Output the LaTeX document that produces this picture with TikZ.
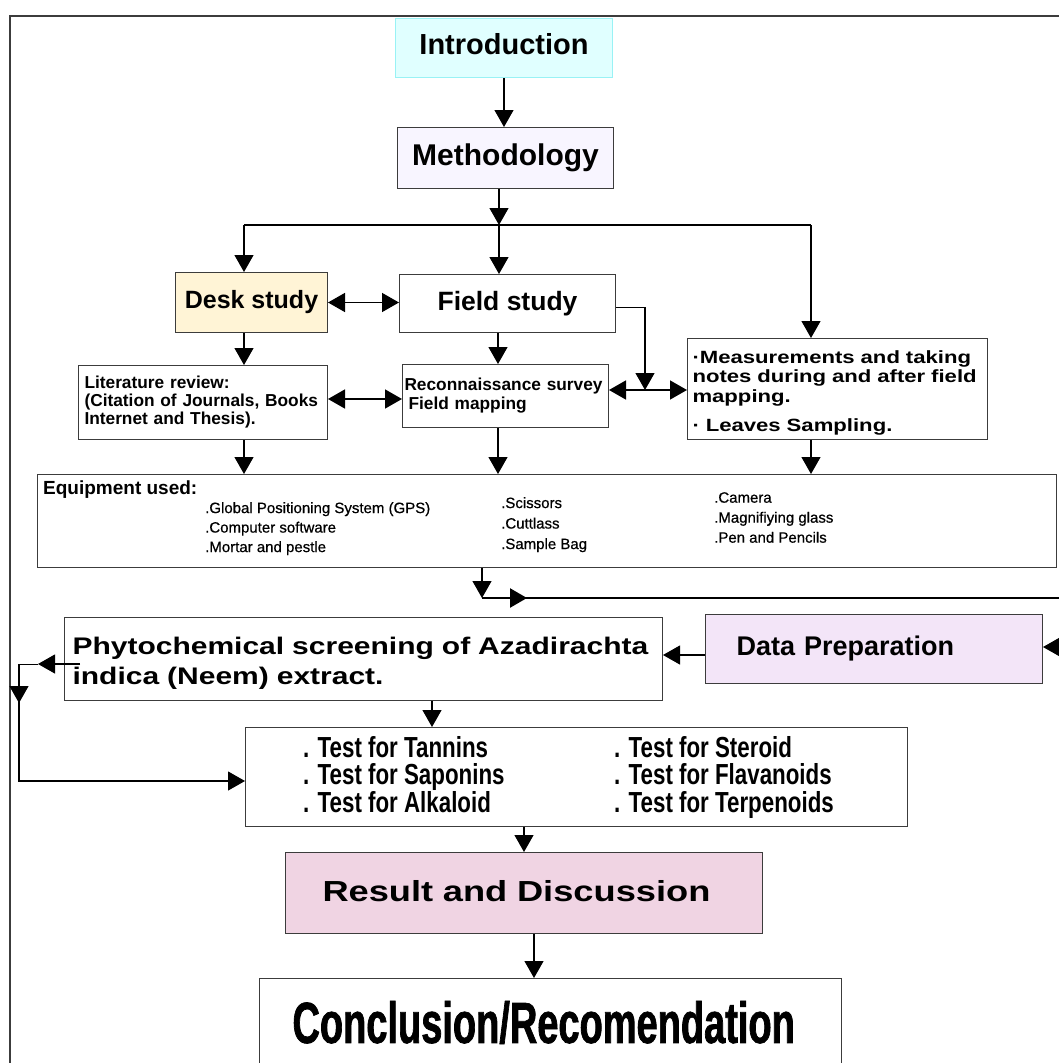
\documentclass[tikz,border=0pt]{standalone}
\usepackage{fontspec}
\setmainfont{Liberation Sans}
\newfontfamily\medfont[FakeBold=0.6]{Liberation Sans}
\newfontfamily\widefont[FakeStretch=1.25]{Liberation Sans}
\newfontfamily\narrowfont[FakeStretch=0.77]{Liberation Sans}
\newfontfamily\tallfont[FakeStretch=0.655,FakeBold=1.2]{Liberation Sans}
\usetikzlibrary{arrows.meta}
\definecolor{introfill}{HTML}{E0FFFF}
\definecolor{introline}{HTML}{99F2F5}
\definecolor{methfill}{HTML}{F8F5FF}
\definecolor{deskfill}{HTML}{FFF4D6}
\definecolor{datafill}{HTML}{F3E5F8}
\definecolor{resfill}{HTML}{F0D4E3}
\definecolor{boxline}{HTML}{3C3C3C}
\newcommand{\px}[2]{\fontsize{#1}{#2}\selectfont}

\begin{document}
\begin{tikzpicture}[x=1pt, y=-1pt,
	box/.style={draw=boxline, line width=1pt, rectangle, anchor=north west, inner sep=0pt},
	arr/.style={-{Triangle[length=17pt,width=19pt]}, line width=1.2pt},
	arrr/.style={{Triangle[length=17pt,width=19pt]}-{Triangle[length=17pt,width=19pt]}, line width=1.6pt}]
	\useasboundingbox (0,0) rectangle (1059,1063);
	\clip (0,0) rectangle (1059,1063);
	\draw[line width=1.2pt, boxline] (10,1080) -- (10,16) -- (1080,16);

	\node[box, fill=introfill, draw=introline, minimum width=217, minimum height=59, text depth=8pt, font=\bfseries\px{29}{32}] (intro) at (395,18) {Introduction};
	\node[box, fill=methfill, minimum width=216, minimum height=61, font=\bfseries\px{30}{33}] (meth) at (397,127) {Methodology};
	\node[box, fill=deskfill, minimum width=152, minimum height=60, font=\bfseries\px{25}{28}] (desk) at (175,272) {Desk study};
	\node[box, minimum width=216, minimum height=58, font=\bfseries\px{26.5}{30}] (field) at (399,274) {Field study};
	\node[box, minimum height=74, text width=237, inner xsep=6, align=left, font=\bfseries\px{17.3}{18}] (lit) at (78,365) {Literature review:\\(Citation of Journals, Books\\Internet and Thesis).};
	\node[box, minimum height=63, text width=202, inner xsep=2, align=left, font=\bfseries\px{17.3}{19}] (recon) at (402,364) {Reconnaissance survey\\\hspace*{4pt}Field mapping\\[6pt]};
	\node[box, minimum height=101, text width=290, inner xsep=5, align=left, font=\widefont\bfseries\px{17.7}{19.5}] (meas) at (687,338) {\rule{0pt}{21pt}·Measurements and taking\\notes during and after field\\mapping.\\[10pt]· Leaves Sampling.};

	\node[box, minimum width=1019, minimum height=93] (equip) at (37,474) {};
	\node[anchor=base west, inner sep=0pt, font=\bfseries\px{19}{20}] (equiphead) at (43,494) {Equipment used:};
	\node[anchor=north west, inner sep=0pt, align=left, font=\medfont\px{15}{19.5}] (eqA) at (205,502) {.Global Positioning System (GPS)\\.Computer software\\.Mortar and pestle};
	\node[anchor=north west, inner sep=0pt, align=left, font=\medfont\px{15}{20.5}] (eqB) at (501,497) {.Scissors\\.Cuttlass\\.Sample Bag};
	\node[anchor=north west, inner sep=0pt, align=left, font=\medfont\px{15}{20}] (eqC) at (714,492) {.Camera\\.Magnifiying glass\\.Pen and Pencils};

	\node[box, fill=datafill, minimum width=337, minimum height=69, text width=275, inner xsep=31, align=left, text depth=7pt, font=\bfseries\px{27}{30}] (data) at (705,614) {Data Preparation};
	\node[box, minimum height=83, text width=582, inner xsep=8, align=left, font=\widefont\bfseries\px{24}{30}] (phyto) at (64,617) {\rule{0pt}{26pt}Phytochemical screening of Azadirachta\\indica (Neem) extract.};

	\node[box, minimum width=662, minimum height=99] (tests) at (245,727) {};
	\node[anchor=north west, inner sep=0pt, align=left, font=\narrowfont\bfseries\px{29}{27.5}] (testsA) at (303,736) {. Test for Tannins\\. Test for Saponins\\. Test for Alkaloid};
	\node[anchor=north west, inner sep=0pt, align=left, font=\narrowfont\bfseries\px{29}{27.5}] (testsB) at (614,736) {. Test for Steroid\\. Test for Flavanoids\\. Test for Terpenoids};

	\node[box, fill=resfill, minimum width=477, minimum height=81, text width=403, inner xsep=37, align=left, text depth=5pt, font=\widefont\bfseries\px{29}{32}] (result) at (285,852) {Result and Discussion};
	\node[box, minimum width=582, minimum height=88, text width=516, inner xsep=33, align=left, font=\tallfont\bfseries\px{58}{60}] (concl) at (259,978) {Conclusion/Recomendation};

	\coordinate (colA) at (244,0);
	\coordinate (colB) at (498,0);
	\coordinate (colC) at (811,0);
	\coordinate (bus) at (499,225);
	\draw[arr] (intro.south) -- (intro.south |- meth.north);
	\draw[arr] (bus |- meth.south) -- (bus);
	\draw[line width=2pt] (colA |- bus) -- (colC |- bus);
	\draw[arr] (colA |- bus) -- (colA |- desk.north);
	\draw[arr] (bus) -- (bus |- field.north);
	\draw[arr] (colC |- bus) -- (colC |- meas.north);
	\draw[arrr] (desk.east) -- (desk.east -| field.west);
	\draw[arr] (colA |- desk.south) -- (colA |- lit.north);
	\draw[arr] (colB |- field.south) -- (colB |- recon.north);
	\coordinate (tap) at (645,390);
	\draw[arr] ([yshift=-4pt]field.east) -| (tap);
	\draw[arrr] (recon.east |- tap) -- (meas.west |- tap);
	\coordinate (lr) at (0,399);
	\draw[arrr] (lit.east |- lr) -- (recon.west |- lr);
	\draw[arr] (colA |- lit.south) -- (colA |- equip.north);
	\draw[arr] (colB |- recon.south) -- (colB |- equip.north);
	\draw[arr] (colC |- meas.south) -- (colC |- equip.north);

	\coordinate (turn) at (482,598);
	\coordinate (edgeR) at (1070,598);
	\draw[arr] (turn |- equip.south) -- (turn);
	\draw[line width=2.4pt] (turn) -- (edgeR);
	\draw[arr, line width=2.4pt] (turn) -- ++(45,0);
	\coordinate (edgeD) at (1070,647);
	\draw[arr] (edgeD) -- (data.east |- edgeD);
	\coordinate (dp) at (0,655);
	\draw[arr] (data.west |- dp) -- (phyto.east |- dp);

	\coordinate (colD) at (432,0);
	\draw[arr] (colD |- phyto.south) -- (colD |- tests.north);
	\coordinate (fb) at (80,664);
	\coordinate (fbtip) at (38,664);
	\coordinate (fbleft) at (19,664);
	\coordinate (fbbot) at (19,781);
	\draw[arr] (fb) -- (fbtip);
	\draw (fbtip) -- (fbleft);
	\draw[arr] (fbleft) -- ++(0,39);
	\draw[arr] (fbleft) -- (fbbot) -- (fbbot -| tests.west);

	\coordinate (colE) at (524,0);
	\draw[arr] (colE |- tests.south) -- (colE |- result.north);
	\coordinate (colF) at (534,0);
	\draw[arr] (colF |- result.south) -- (colF |- concl.north);
\end{tikzpicture}
\end{document}
